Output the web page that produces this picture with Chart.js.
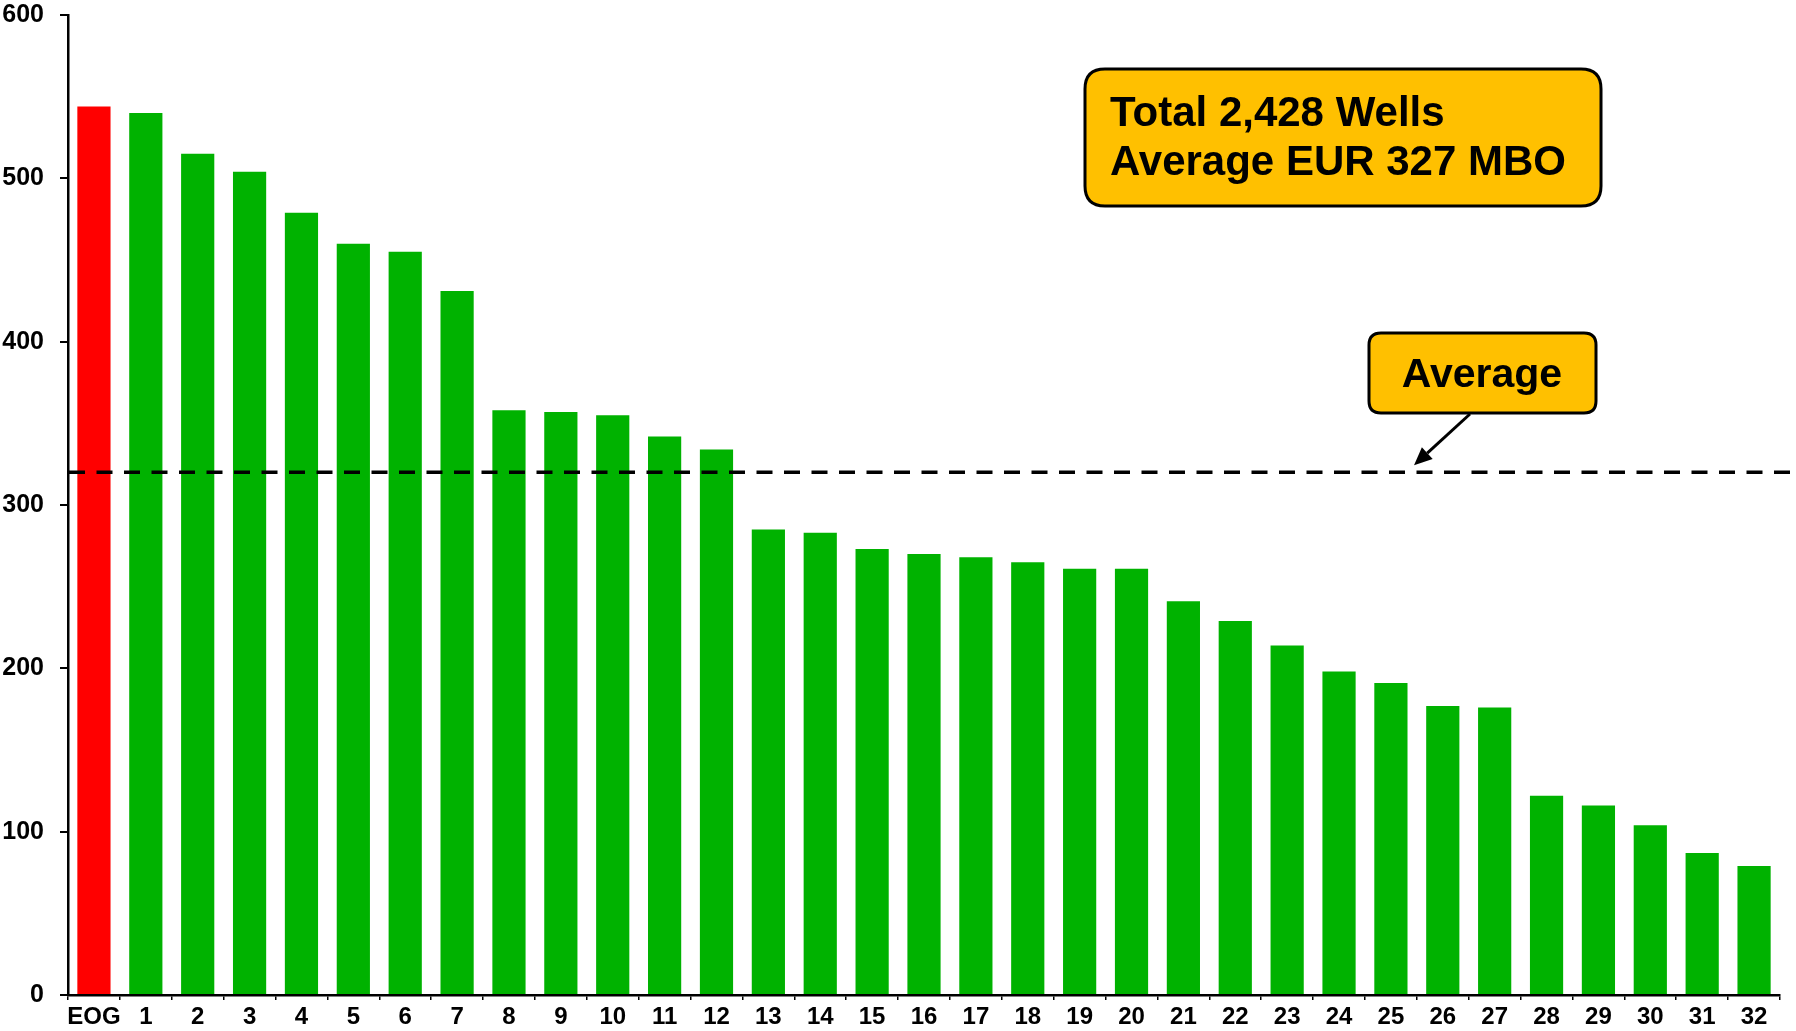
<!DOCTYPE html>
<html>
<head>
<meta charset="utf-8">
<script src="https://cdn.jsdelivr.net/npm/chart.js@4/dist/chart.umd.min.js"></script>
<style>
  html, body { margin: 0; padding: 0; background: #fff; }
  #wrap { width: 1796px; height: 1031px; }
  canvas { display: block; }
</style>
</head>
<body>
<div id="wrap"><canvas id="c" width="1796" height="1031"></canvas></div>
<script>
const categories = ['EOG','1','2','3','4','5','6','7','8','9','10','11','12','13','14','15','16','17','18','19','20','21','22','23','24','25','26','27','28','29','30','31','32'];
const eurValues = [544, 540, 515, 504, 479, 460, 455, 431, 358, 357, 355, 342, 334, 285, 283, 273, 270, 268, 265, 261, 261, 241, 229, 214, 198, 191, 177, 176, 122, 116, 104, 87, 79];
const averageValue = 320;
const yTicks = [0, 100, 200, 300, 400, 500, 600];
const summaryLines = ['Total 2,428 Wells', 'Average EUR 327 MBO'];
const averageLabel = 'Average';

const FONT = '"Liberation Sans", Arial, Helvetica, sans-serif';
const GREEN = '#00B200';
const RED = '#FF0000';
const GOLD = '#FFC000';

function roundRect(ctx, x, y, w, h, r) {
  ctx.beginPath();
  ctx.moveTo(x + r, y);
  ctx.lineTo(x + w - r, y);
  ctx.quadraticCurveTo(x + w, y, x + w, y + r);
  ctx.lineTo(x + w, y + h - r);
  ctx.quadraticCurveTo(x + w, y + h, x + w - r, y + h);
  ctx.lineTo(x + r, y + h);
  ctx.quadraticCurveTo(x, y + h, x, y + h - r);
  ctx.lineTo(x, y + r);
  ctx.quadraticCurveTo(x, y, x + r, y);
  ctx.closePath();
}

const annotationPlugin = {
  id: 'annotations',
  afterDatasetsDraw(chart) {
    const ctx = chart.ctx;
    const ys = chart.scales.y;
    const area = chart.chartArea;
    const yAvg = ys.getPixelForValue(averageValue);

    ctx.save();
    ctx.strokeStyle = '#000';
    ctx.lineWidth = 3.5;
    ctx.setLineDash([16, 11.5]);
    ctx.beginPath();
    ctx.moveTo(area.left + 1, yAvg);
    ctx.lineTo(chart.width, yAvg);
    ctx.stroke();
    ctx.restore();

    ctx.save();
    const b1 = { x: 1085, y: 69, w: 516, h: 137 };
    roundRect(ctx, b1.x, b1.y, b1.w, b1.h, 20);
    ctx.fillStyle = GOLD;
    ctx.fill();
    ctx.lineWidth = 3;
    ctx.strokeStyle = '#000';
    ctx.stroke();
    ctx.fillStyle = '#000';
    ctx.font = 'bold 42px ' + FONT;
    ctx.textAlign = 'left';
    ctx.textBaseline = 'middle';
    ctx.fillText(summaryLines[0], 1110, 114);
    ctx.fillText(summaryLines[1], 1110, 163);
    ctx.restore();

    ctx.save();
    const b2 = { x: 1369, y: 333, w: 227, h: 80 };
    roundRect(ctx, b2.x, b2.y, b2.w, b2.h, 12);
    ctx.fillStyle = GOLD;
    ctx.fill();
    ctx.lineWidth = 3;
    ctx.strokeStyle = '#000';
    ctx.stroke();
    ctx.fillStyle = '#000';
    ctx.font = 'bold 41px ' + FONT;
    ctx.textAlign = 'center';
    ctx.textBaseline = 'middle';
    ctx.fillText(averageLabel, 1482, 376);
    ctx.restore();

    ctx.save();
    const sx = 1470, sy = b2.y + b2.h + 1;
    const tx = 1414, ty = yAvg - 7;
    const ang = Math.atan2(ty - sy, tx - sx);
    const hl = 18, hw = 8;
    const bx = tx - hl * Math.cos(ang), by = ty - hl * Math.sin(ang);
    ctx.strokeStyle = '#000';
    ctx.lineWidth = 3;
    ctx.beginPath();
    ctx.moveTo(sx, sy);
    ctx.lineTo(bx, by);
    ctx.stroke();
    ctx.fillStyle = '#000';
    ctx.beginPath();
    ctx.moveTo(tx, ty);
    ctx.lineTo(bx + hw * Math.sin(ang), by - hw * Math.cos(ang));
    ctx.lineTo(bx - hw * Math.sin(ang), by + hw * Math.cos(ang));
    ctx.closePath();
    ctx.fill();
    ctx.restore();
  }
};

const barColors = categories.map((c, i) => i === 0 ? RED : GREEN);

new Chart(document.getElementById('c'), {
  type: 'bar',
  data: {
    labels: categories,
    datasets: [{
      data: eurValues,
      backgroundColor: barColors,
      borderWidth: 0,
      categoryPercentage: 1.0,
      barPercentage: 0.64
    }]
  },
  options: {
    responsive: false,
    devicePixelRatio: 1,
    animation: false,
    layout: { padding: { top: 0, right: 16, left: 0, bottom: 0 } },
    plugins: {
      legend: { display: false },
      tooltip: { enabled: false },
      title: { display: false }
    },
    scales: {
      x: {
        offset: true,
        grid: {
          display: true,
          offset: true,
          drawOnChartArea: false,
          drawTicks: true,
          tickLength: 5,
          color: '#000',
          lineWidth: 1.5
        },
        border: { display: true, color: '#000', width: 2.5 },
        ticks: {
          color: '#000',
          font: { family: FONT, size: 24, weight: 'bold' },
          padding: 3,
          maxRotation: 0,
          minRotation: 0,
          autoSkip: false
        },
        afterFit(scale) { scale.height = 36; }
      },
      y: {
        min: 0,
        max: 600,
        afterBuildTicks(scale) { scale.ticks = yTicks.map(v => ({ value: v })); },
        grid: {
          display: true,
          drawOnChartArea: false,
          drawTicks: true,
          tickLength: 8,
          color: '#000',
          lineWidth: 2
        },
        border: { display: true, color: '#000', width: 2.5 },
        ticks: {
          color: '#000',
          font: { family: FONT, size: 25, weight: 'bold', lineHeight: 1.2 },
          padding: 16
        },
        afterFit(scale) {
          scale.width = 68;
          scale.paddingTop = 15;
          scale.paddingBottom = 0;
        }
      }
    }
  },
  plugins: [annotationPlugin]
});
</script>
</body>
</html>
